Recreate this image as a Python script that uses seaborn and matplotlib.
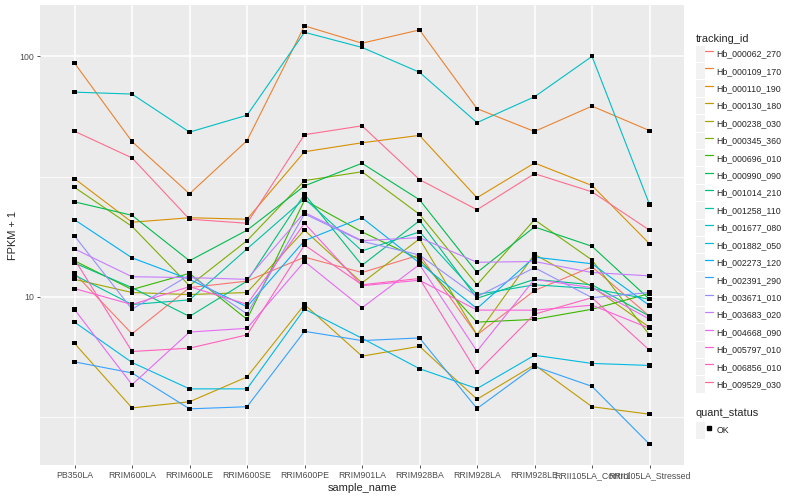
import numpy as np
import pandas as pd
import matplotlib
matplotlib.use("Agg")
import matplotlib.pyplot as plt
from matplotlib.lines import Line2D
from matplotlib.patches import Patch
from matplotlib.legend_handler import HandlerTuple
from matplotlib.ticker import FixedLocator, NullFormatter
import seaborn as sns

samples = ["PB350LA", "RRIM600LA", "RRIM600LE", "RRIM600SE", "RRIM600PE", "RRIM901LA",
           "RRIM928BA", "RRIM928LA", "RRIM928LE", "RRII105LA_Control", "RRII105LA_Stressed"]

tracking_ids = ["Hb_000062_270", "Hb_000109_170", "Hb_000110_190", "Hb_000130_180",
                "Hb_000238_030", "Hb_000345_360", "Hb_000696_010", "Hb_000990_090",
                "Hb_001014_210", "Hb_001258_110", "Hb_001677_080", "Hb_001882_050",
                "Hb_002273_120", "Hb_002391_290", "Hb_003671_010", "Hb_003683_020",
                "Hb_004668_090", "Hb_005797_010", "Hb_006856_010", "Hb_009529_030"]

# FPKM + 1, one list per gene, in sample order
hb_000062_270 = [12.5, 7.0, 10.9, 11.6, 14.6, 12.6, 14.9, 6.93, 10.6, 13.3, 8.29]
hb_000109_170 = [93.8, 44.2, 26.8, 44.6, 134, 113.5, 128.9, 60.6, 48.7, 62.1, 49.1]
hb_000110_190 = [31.0, 20.4, 21.3, 21.0, 40.1, 43.7, 46.9, 25.8, 36.0, 29.0, 16.6]
hb_000130_180 = [6.39, 3.44, 3.65, 4.63, 9.27, 5.65, 6.21, 3.74, 5.20, 3.48, 3.24]
hb_000238_030 = [11.8, 10.4, 10.2, 10.4, 18.9, 11.4, 17.4, 6.93, 15.0, 11.0, 7.45]
hb_000345_360 = [28.5, 19.6, 11.1, 17.1, 30.4, 33.1, 22.0, 11.2, 20.9, 14.2, 6.92]
hb_000696_010 = [14.1, 10.7, 12.5, 8.04, 25.2, 18.6, 14.3, 7.83, 8.04, 8.86, 10.3]
hb_000990_090 = [24.8, 21.8, 14.1, 18.9, 28.9, 35.9, 25.3, 12.6, 19.5, 16.2, 9.75]
hb_001014_210 = [13.8, 10.9, 8.27, 11.6, 26.7, 13.5, 20.7, 9.84, 11.8, 11.2, 8.29]
hb_001258_110 = [12.3, 9.27, 9.69, 15.8, 25.6, 15.5, 18.6, 10.2, 11.2, 10.8, 9.75]
hb_001677_080 = [71.0, 69.7, 48.4, 56.9, 126, 109, 85.9, 53.0, 67.9, 100, 24.2]
hb_001882_050 = [7.83, 5.32, 4.13, 4.13, 8.88, 6.71, 5.01, 4.14, 5.70, 5.27, 5.17]
hb_002273_120 = [20.9, 14.5, 11.8, 9.07, 17.1, 21.3, 13.8, 8.92, 14.6, 13.7, 9.18]
hb_002391_290 = [5.35, 4.81, 3.41, 3.48, 7.17, 6.56, 6.73, 3.42, 5.12, 4.23, 2.43]
hb_003671_010 = [17.9, 8.86, 12.3, 8.47, 22.1, 17.0, 14.9, 10.0, 13.2, 9.9, 10.4]
hb_003683_020 = [15.8, 12.1, 12.0, 11.8, 22.4, 17.1, 17.6, 13.9, 14.0, 12.6, 12.2]
hb_004668_090 = [8.84, 4.30, 7.12, 7.38, 14.0, 8.98, 13.6, 5.93, 11.8, 10.9, 8.06]
hb_005797_010 = [10.8, 9.27, 11.0, 9.29, 20.2, 11.1, 11.7, 8.79, 8.78, 9.21, 7.38]
hb_006856_010 = [14.3, 5.91, 6.10, 6.93, 16.4, 11.2, 11.9, 4.84, 8.45, 9.9, 5.98]
hb_009529_030 = [48.8, 37.8, 21.0, 20.2, 47.2, 51.4, 30.7, 23.0, 32.5, 27.3, 18.9]

series = [hb_000062_270, hb_000109_170, hb_000110_190, hb_000130_180, hb_000238_030,
          hb_000345_360, hb_000696_010, hb_000990_090, hb_001014_210, hb_001258_110,
          hb_001677_080, hb_001882_050, hb_002273_120, hb_002391_290, hb_003671_010,
          hb_003683_020, hb_004668_090, hb_005797_010, hb_006856_010, hb_009529_030]

# ggplot2 default hue palette for 20 levels
hue20 = ["#F8766D", "#EA8331", "#D89000", "#C09B00", "#A3A500", "#7CAE00", "#39B600",
         "#00BB4E", "#00BF7D", "#00C1A3", "#00BFC4", "#00BAE0", "#00B0F6", "#35A2FF",
         "#9590FF", "#C77CFF", "#E76BF3", "#FA62DB", "#FF62BC", "#FF6C91"]

rows = []
for tid, vals in zip(tracking_ids, series):
    for s, v in zip(samples, vals):
        rows.append((tid, s, v, "OK"))
df = pd.DataFrame(rows, columns=["tracking_id", "sample_name", "fpkm1", "quant_status"])
df["x"] = df["sample_name"].map({s: i for i, s in enumerate(samples)})

sns.set_theme(style="darkgrid", rc={
    "axes.facecolor": "#EBEBEB", "grid.color": "white", "axes.edgecolor": "none",
})
plt.rcParams["font.family"] = ["Liberation Sans", "DejaVu Sans"]

fig = plt.figure(figsize=(8, 5), dpi=100)
ax = fig.add_axes([40 / 800, 1 - 465 / 500, 644 / 800, 460 / 500])

palette = dict(zip(tracking_ids, hue20))
sns.lineplot(data=df, x="x", y="fpkm1", hue="tracking_id", hue_order=tracking_ids,
             palette=palette, linewidth=0.8, legend=False, ax=ax, estimator=None, sort=False)
sns.scatterplot(data=df, x="x", y="fpkm1", color="black", marker="s", s=9,
                edgecolor="none", legend=False, ax=ax, zorder=3)

ax.set_yscale("log")
ax.set_ylim(10 ** 0.299, 10 ** 2.214)
ax.set_xlim(-0.6, len(samples) - 0.4)
ax.yaxis.set_major_locator(FixedLocator([10, 100]))
ax.yaxis.set_minor_locator(FixedLocator([10 ** 0.5, 10 ** 1.5]))
ax.yaxis.set_minor_formatter(NullFormatter())
ax.set_yticklabels(["10", "100"])
ax.set_xticks(range(len(samples)))
ax.set_xticklabels(samples)
ax.grid(which="major", color="white", linewidth=1.1)
ax.grid(which="minor", axis="y", color="white", linewidth=0.55)
ax.tick_params(axis="both", which="major", length=2.5, width=0.6, color="#333333",
               labelsize=6.3, labelcolor="#4D4D4D", pad=2, bottom=True, left=True)
ax.tick_params(axis="y", which="minor", length=0)
ax.set_xlabel("sample_name", fontsize=7.9, labelpad=2)
ax.set_ylabel("FPKM + 1", fontsize=7.9, labelpad=1)

# legends in ggplot style: grey key boxes
key_bg = "#F2F2F2"
handles1 = [(Patch(facecolor=key_bg, edgecolor="none"), Line2D([], [], color=c, lw=0.9))
            for c in hue20]
leg1 = fig.legend(handles1, tracking_ids, handler_map={tuple: HandlerTuple(ndivide=None, pad=0)},
                  loc="upper left", bbox_to_anchor=(0.870, 0.931), frameon=False,
                  title="tracking_id", alignment="left", fontsize=6.3, title_fontsize=7.9,
                  handlelength=1.95, handleheight=2.5, labelspacing=0.12, handletextpad=0.4,
                  borderpad=0, borderaxespad=0)
handles2 = [(Patch(facecolor=key_bg, edgecolor="none"),
             Line2D([], [], color="black", marker="s", markersize=2.5, lw=0))]
leg2 = fig.legend(handles2, ["OK"], handler_map={tuple: HandlerTuple(ndivide=None, pad=0)},
                  loc="upper left", bbox_to_anchor=(0.870, 0.184), frameon=False,
                  title="quant_status", alignment="left", fontsize=6.3, title_fontsize=7.9,
                  handlelength=1.95, handleheight=2.5, handletextpad=0.4,
                  borderpad=0, borderaxespad=0)

fig.savefig("out.png", dpi=100)
